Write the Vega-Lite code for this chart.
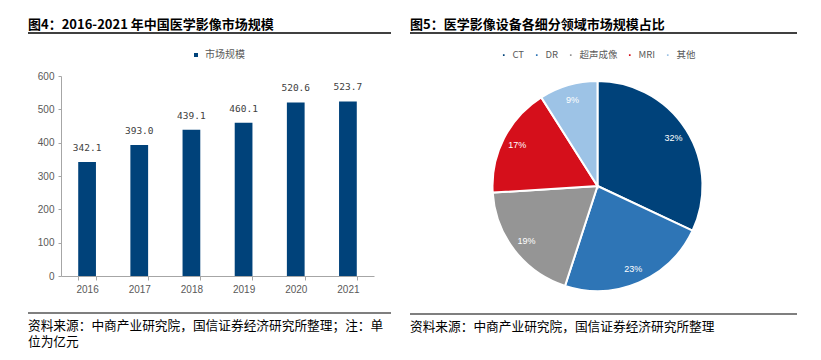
{
  "$schema": "https://vega.github.io/schema/vega-lite/v6.json",
  "background": "white",
  "padding": {"left": 27, "top": 19, "right": 0, "bottom": 0},
  "config": {
    "view": {"stroke": null},
    "font": "Noto Sans CJK SC",
    "title": {"font": "Noto Sans CJK SC", "fontSize": 13, "fontWeight": "bold", "color": "#000000", "anchor": "start", "frame": "group"},
    "legend": {"layout": {"top": {"anchor": "middle"}}}
  },
  "resolve": {"scale": {"color": "independent"}, "legend": {"color": "independent"}},
  "datasets": {
    "market": [
      {"year": "2016", "value": 342.1},
      {"year": "2017", "value": 393.0},
      {"year": "2018", "value": 439.1},
      {"year": "2019", "value": 460.1},
      {"year": "2020", "value": 520.6},
      {"year": "2021", "value": 523.7}
    ],
    "share": [
      {"idx": 1, "cat": "CT", "share": 32, "label": "32%"},
      {"idx": 2, "cat": "DR", "share": 23, "label": "23%"},
      {"idx": 3, "cat": "超声成像", "share": 19, "label": "19%"},
      {"idx": 4, "cat": "MRI", "share": 17, "label": "17%"},
      {"idx": 5, "cat": "其他", "share": 9, "label": "9%"}
    ],
    "line": [{"v": 0, "a": -0.1, "b": 1}]
  },
  "spacing": 17,
  "hconcat": [
    {
      "spacing": 16,
      "resolve": {"scale": {"color": "independent"}, "legend": {"color": "independent"}},
      "vconcat": [
        {
          "width": 330, "height": 1,
          "title": {"text": "图4：2016-2021 年中国医学影像市场规模", "orient": "top", "anchor": "start", "frame": "group", "offset": -13, "dx": -33, "baseline": "bottom"},
          "data": {"name": "line"},
          "mark": {"type": "rule", "color": "#000000", "strokeWidth": 1.5},
          "encoding": {
            "x": {"field": "a", "type": "quantitative", "scale": {"domain": [0, 1]}, "axis": null},
            "x2": {"field": "b"},
            "y": {"field": "v", "type": "quantitative", "scale": {"domain": [0, 1]}, "axis": null}
          }
        },
        {
          "width": 313, "height": 200,
          "data": {"name": "market"},
          "encoding": {
            "x": {"field": "year", "type": "nominal", "scale": {"paddingInner": 0.66, "paddingOuter": 0.33},
              "axis": {"title": null, "labelAngle": 0, "tickBand": "extent", "domainColor": "#A6A6A6", "tickColor": "#A6A6A6", "tickSize": 4, "labelPadding": 4, "labelColor": "#595959", "labelFont": "Liberation Sans", "labelFontSize": 10, "minExtent": 20, "maxExtent": 20}},
            "y": {"field": "value", "type": "quantitative", "scale": {"domain": [0, 600]},
              "axis": {"title": null, "values": [0, 100, 200, 300, 400, 500, 600], "grid": false, "domainColor": "#A6A6A6", "tickColor": "#A6A6A6", "tickSize": 3, "labelPadding": 4, "labelColor": "#595959", "labelFont": "Liberation Sans", "labelFontSize": 10, "minExtent": 33}}
          },
          "layer": [
            {
              "mark": {"type": "bar"},
              "encoding": {
                "color": {"datum": "市场规模", "type": "nominal", "scale": {"range": ["#00427A"]},
                  "legend": {"title": null, "orient": "top", "symbolType": "square", "symbolSize": 16, "labelFontSize": 10, "labelColor": "#595959", "offset": 16, "labelFont": "Noto Sans CJK SC"}}
              }
            },
            {
              "mark": {"type": "text", "baseline": "bottom", "dy": -9, "font": "DejaVu Sans Mono", "fontSize": 9.5, "color": "#404040"},
              "encoding": {"text": {"field": "value", "type": "quantitative", "format": ".1f"}}
            }
          ]
        },
        {
          "width": 330, "height": 1,
          "data": {"name": "line"},
          "title": {"text": ["资料来源：中商产业研究院，国信证券经济研究所整理；注：单", "位为亿元"], "orient": "bottom", "anchor": "start", "frame": "group", "dx": -33, "fontSize": 12.7, "fontWeight": "normal", "baseline": "top", "offset": 6, "lineHeight": 16},
          "mark": {"type": "rule", "color": "#000000", "strokeWidth": 1.2},
          "encoding": {
            "x": {"field": "a", "type": "quantitative", "scale": {"domain": [0, 1]}, "axis": null},
            "x2": {"field": "b"},
            "y": {"field": "v", "type": "quantitative", "scale": {"domain": [-1, 0]}, "axis": null}
          }
        }
      ]
    },
    {
      "spacing": 16,
      "resolve": {"scale": {"color": "independent"}, "legend": {"color": "independent"}},
      "vconcat": [
        {
          "width": 387, "height": 1,
          "title": {"text": "图5：医学影像设备各细分领域市场规模占比", "orient": "top", "anchor": "start", "frame": "group", "offset": -13, "baseline": "bottom"},
          "data": {"name": "line"},
          "mark": {"type": "rule", "color": "#000000", "strokeWidth": 1.5},
          "encoding": {"y": {"field": "v", "type": "quantitative", "scale": {"domain": [0, 1]}, "axis": null}}
        },
        {
          "width": 375, "height": 222,
          "data": {"name": "share"},
          "encoding": {
            "theta": {"field": "share", "type": "quantitative", "stack": true},
            "order": {"field": "idx", "type": "quantitative"}
          },
          "layer": [
            {
              "mark": {"type": "arc", "outerRadius": 105, "stroke": "white", "strokeWidth": 2},
              "encoding": {
                "color": {"field": "cat", "type": "nominal",
                  "scale": {"domain": ["CT", "DR", "超声成像", "MRI", "其他"], "range": ["#00427A", "#2E75B6", "#959595", "#D50F1B", "#9DC3E6"]},
                  "legend": {"title": null, "orient": "top", "direction": "horizontal", "symbolType": "square", "symbolSize": 10, "labelFontSize": 9.5, "labelColor": "#595959", "columnPadding": 7, "offset": 15, "labelFont": "Noto Sans CJK SC"}}
              }
            },
            {
              "mark": {"type": "text", "radius": 90, "color": "white", "fontSize": 9, "font": "Liberation Sans"},
              "encoding": {"text": {"field": "label"}, "detail": {"field": "cat"}}
            }
          ]
        },
        {
          "width": 387, "height": 1,
          "data": {"name": "line"},
          "title": {"text": "资料来源：中商产业研究院，国信证券经济研究所整理", "orient": "bottom", "anchor": "start", "frame": "group", "fontSize": 12.7, "fontWeight": "normal", "baseline": "top", "offset": 6},
          "mark": {"type": "rule", "color": "#000000", "strokeWidth": 1.2},
          "encoding": {"y": {"field": "v", "type": "quantitative", "scale": {"domain": [-1, 0]}, "axis": null}}
        }
      ]
    }
  ]
}
